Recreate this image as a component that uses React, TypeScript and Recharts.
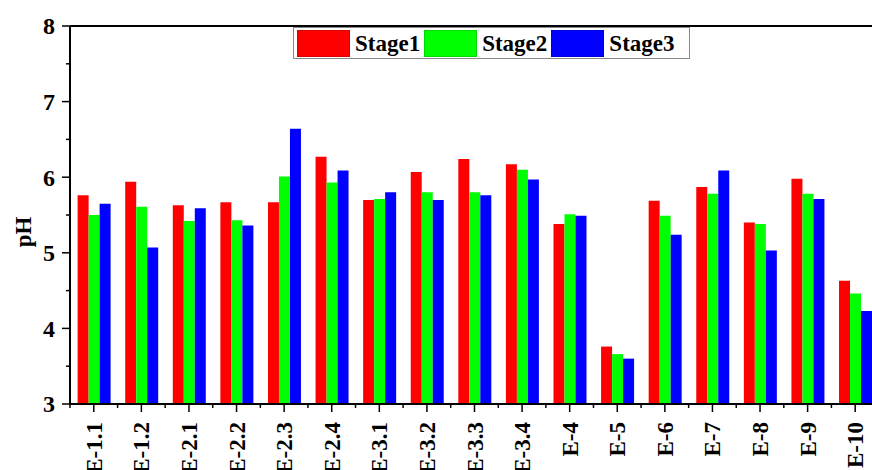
import { Bar, BarChart, Legend, ReferenceLine, XAxis, YAxis } from "recharts";

const SITES = [
  "E-1.1", "E-1.2", "E-2.1", "E-2.2", "E-2.3", "E-2.4", "E-3.1", "E-3.2", "E-3.3",
  "E-3.4", "E-4", "E-5", "E-6", "E-7", "E-8", "E-9", "E-10",
];

const STAGE1 = [5.76, 5.94, 5.63, 5.67, 5.67, 6.27, 5.7, 6.07, 6.24, 6.17, 5.38, 3.76, 5.69, 5.87, 5.4, 5.98, 4.63];
const STAGE2 = [5.5, 5.61, 5.42, 5.43, 6.01, 5.93, 5.71, 5.8, 5.8, 6.1, 5.51, 3.66, 5.49, 5.78, 5.38, 5.78, 4.46];
const STAGE3 = [5.65, 5.07, 5.59, 5.36, 6.64, 6.09, 5.8, 5.7, 5.76, 5.97, 5.49, 3.6, 5.24, 6.09, 5.03, 5.71, 4.23];

const Y_TICKS = [3, 3.5, 4, 4.5, 5, 5.5, 6, 6.5, 7, 7.5, 8];

const SERIES = [
  { key: "stage1", label: "Stage1", color: "#ff0000" },
  { key: "stage2", label: "Stage2", color: "#00ff00" },
  { key: "stage3", label: "Stage3", color: "#0000ff" },
] as const;

const data = SITES.map((site, i) => ({
  site,
  stage1: STAGE1[i],
  stage2: STAGE2[i],
  stage3: STAGE3[i],
}));

const FONT = "Liberation Serif, Times New Roman, serif";
const CHART_W = 880;
const CHART_H = 470;
const MARGIN = { top: 26, right: 1, bottom: 0, left: 0 };
const Y_AXIS_W = 70;
const X_AXIS_H = 66;
const BAND = (CHART_W - MARGIN.left - MARGIN.right - Y_AXIS_W) / SITES.length;

function YTick({ x, y, payload }: any) {
  const major = Number.isInteger(payload.value);
  return (
    <g>
      <line x1={x} x2={x - (major ? 8 : 4)} y1={y} y2={y} stroke="#000" strokeWidth={1.5} />
      {major && (
        <text
          x={x - 15}
          y={y}
          dy="0.35em"
          textAnchor="end"
          fontFamily={FONT}
          fontWeight="bold"
          fontSize={24}
          fill="#000"
        >
          {payload.value}
        </text>
      )}
    </g>
  );
}

function XTick({ x, y, payload }: any) {
  const left = x - BAND / 2;
  return (
    <g>
      <line x1={x} x2={x} y1={y} y2={y + 8} stroke="#000" strokeWidth={1.5} />
      <line x1={left} x2={left} y1={y} y2={y + 4} stroke="#000" strokeWidth={1.5} />
      <text
        x={x}
        y={y + 18}
        dy="0.35em"
        textAnchor="end"
        transform={`rotate(-90, ${x}, ${y + 18})`}
        fontFamily={FONT}
        fontWeight="bold"
        fontSize={23}
        fill="#000"
      >
        {payload.value}
      </text>
    </g>
  );
}

function AxisTitle({ viewBox }: any) {
  const cx = (viewBox?.x ?? 0) + 23;
  const cy = (viewBox?.y ?? 26) + 206;
  return (
    <text
      x={cx}
      y={cy}
      dy="0.35em"
      textAnchor="middle"
      transform={`rotate(-90, ${cx}, ${cy})`}
      fontFamily={FONT}
      fontWeight="bold"
      fontSize={23}
      fill="#000"
    >
      pH
    </text>
  );
}

function StageLegend() {
  return (
    <div
      style={{
        display: "flex",
        alignItems: "center",
        height: 32,
        border: "1px solid #888",
        background: "#fff",
        fontFamily: FONT,
        fontWeight: "bold",
        fontSize: 23,
        color: "#000",
        boxSizing: "border-box",
        width: 397,
        paddingLeft: 3,
      }}
    >
      {SERIES.map((s, i) => (
        <div key={s.key} style={{ display: "flex", alignItems: "center", marginLeft: i === 0 ? 0 : 4 }}>
          <span
            style={{
              display: "inline-block",
              width: 53,
              height: 27,
              background: s.color,
              boxSizing: "border-box",
              border: "1px solid rgba(0,0,0,0.15)",
            }}
          />
          <span style={{ marginLeft: 5, lineHeight: "27px" }}>{s.label}</span>
        </div>
      ))}
    </div>
  );
}

export default function App() {
  return (
    <div
      style={{
        position: "fixed",
        left: 0,
        top: 0,
        width: 872,
        height: 470,
        overflow: "hidden",
        background: "#fff",
      }}
    >
      <BarChart
        width={CHART_W}
        height={CHART_H}
        data={data}
        margin={MARGIN}
        barGap={0}
        barCategoryGap="16%"
      >
        <XAxis
          dataKey="site"
          interval={0}
          height={X_AXIS_H}
          axisLine={{ stroke: "#000", strokeWidth: 2 }}
          tickLine={false}
          tickSize={0}
          tickMargin={0}
          tick={<XTick />}
        />
        <YAxis
          type="number"
          domain={[3, 8]}
          ticks={Y_TICKS}
          width={Y_AXIS_W}
          axisLine={{ stroke: "#000", strokeWidth: 2 }}
          tickLine={false}
          tickSize={0}
          tickMargin={0}
          tick={<YTick />}
          label={<AxisTitle />}
          allowDataOverflow
        />
        <ReferenceLine y={8} stroke="#000" strokeWidth={2} />
        <Legend
          layout="horizontal"
          verticalAlign="middle"
          content={<StageLegend />}
          wrapperStyle={{ top: 27, left: 293, width: 397 }}
        />
        {SERIES.map((s) => (
          <Bar
            key={s.key}
            dataKey={s.key}
            name={s.label}
            fill={s.color}
            isAnimationActive={false}
          />
        ))}
      </BarChart>
    </div>
  );
}
